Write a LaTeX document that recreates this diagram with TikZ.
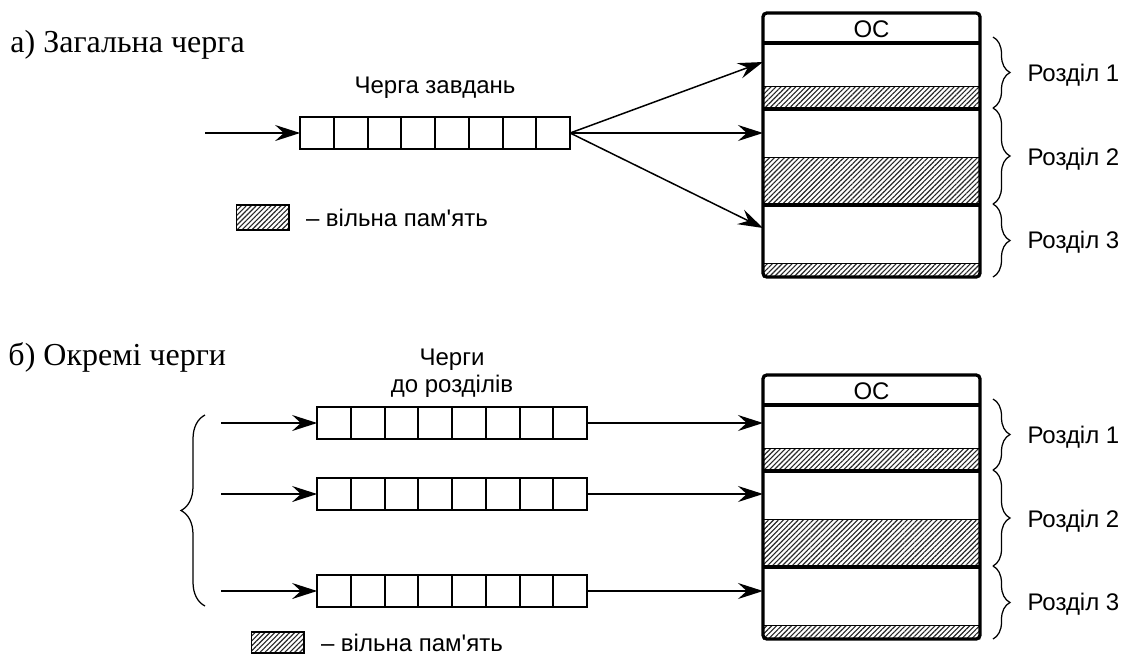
\documentclass[tikz,border=0pt]{standalone}
\usepackage{fontspec}
\setmainfont{Liberation Serif}
\setsansfont{Liberation Sans}
\usetikzlibrary{arrows.meta,positioning,patterns.meta,decorations.pathreplacing}

\begin{document}
\begin{tikzpicture}[
    x=0.4pt,y=-0.4pt,
    cell/.style={draw,line width=0.8pt,minimum width=13.5pt,minimum height=13pt,inner sep=0pt,outer sep=0pt},
    lbl/.style={font=\sffamily\fontsize{9.6}{10.8}\selectfont,inner sep=0pt,align=center},
    title/.style={font=\fontsize{12.8}{15}\selectfont,inner sep=0pt,anchor=base west},
    free/.style={pattern={Lines[angle=45,distance=1.4pt,line width=0.45pt]},pattern color=black!85},
    keybox/.style={free,draw,line width=0.6pt,minimum width=21pt,inner sep=0pt},
    frame/.style={line width=1.3pt},
    arrow/.style={-{Stealth[length=10pt,width=6.4pt,inset=3.5pt]},line width=0.6pt},
    brc/.style={decorate,decoration={brace,amplitude=6.8pt},line width=0.5pt}
  ]
    \useasboundingbox (0,0) rectangle (1129,655);

    \node[title] (ttla) at (10,52) {а) Загальна черга};
    \node[title] (ttlb) at (8,365) {б) Окремі черги};

    \node[cell] (qa1) at (317,133) {};
    \foreach \i [remember=\i as \j (initially 1)] in {2,...,8}
      \node[cell,right=0pt of qa\j] (qa\i) {};
    \node[lbl,anchor=base] (qlbla) at (435,93) {Черга завдань};
    \coordinate (ina) at (205,133);
    \draw[arrow] (ina) -- (qa1.west);

    \node[keybox,minimum height=10pt] (keya) at (262.5,217.5) {};
    \node[lbl,right=6.4pt of keya] (keytxta) {– вільна пам\textquotesingle ять};

    \node[lbl,anchor=north] (qlblb) at (452,348) {Черги\\до розділів};
    \foreach \r/\yy in {1/423,2/494,3/591}{
      \node[cell] (qb\r-1) at (334,\yy) {};
      \foreach \i [remember=\i as \j (initially 1)] in {2,...,8}
        \node[cell,right=0pt of qb\r-\j] (qb\r-\i) {};
      \coordinate (inb\r) at (221,\yy);
      \coordinate (memb\r) at (763,\yy);
      \draw[arrow] (inb\r) -- (qb\r-1.west);
      \draw[arrow] (qb\r-8.east) -- (memb\r);
    }
    \draw[brc,decoration={amplitude=9.6pt}] (205,606) -- (205,415);

    \node[keybox,minimum height=8.4pt] (keyb) at (277.5,642.5) {};
    \node[lbl,right=6.4pt of keyb] (keytxtb) {– вільна пам\textquotesingle ять};

    \foreach \m/\d in {a/0,b/362}{
      \fill[free] (763,{86+\d}) rectangle (980,{109+\d});
      \fill[free] (763,{157+\d}) rectangle (980,{205+\d});
      \fill[free] (763,{263+\d}) rectangle (980,{277+\d});
      \draw[line width=0.4pt] (763,{86+\d}) -- (980,{86+\d})
        (763,{157+\d}) -- (980,{157+\d}) (763,{263+\d}) -- (980,{263+\d});
      \draw[frame,rounded corners=1.5pt] (763,{13+\d}) rectangle (980,{277+\d});
      \draw[frame] (763,{43+\d}) -- (980,{43+\d})
        (763,{109+\d}) -- (980,{109+\d}) (763,{205+\d}) -- (980,{205+\d});
      \node[lbl,anchor=base] (os\m) at (871.5,{37+\d}) {ОС};
      \draw[brc] (993,{37+\d}) -- (993,{108+\d});
      \draw[brc] (993,{108+\d}) -- (993,{204+\d});
      \draw[brc] (993,{204+\d}) -- (993,{277+\d});
      \node[lbl,anchor=base west] (part\m1) at (1027,{81+\d}) {Розділ 1};
      \node[lbl,anchor=base west] (part\m2) at (1027,{165+\d}) {Розділ 2};
      \node[lbl,anchor=base west] (part\m3) at (1027,{248+\d}) {Розділ 3};
    }

    \coordinate (mema1) at (763,62);
    \coordinate (mema2) at (763,133);
    \coordinate (mema3) at (763,228);
    \draw[arrow] (qa8.east) -- (mema1);
    \draw[arrow] (qa8.east) -- (mema2);
    \draw[arrow] (qa8.east) -- (mema3);
  \end{tikzpicture}
\end{document}
